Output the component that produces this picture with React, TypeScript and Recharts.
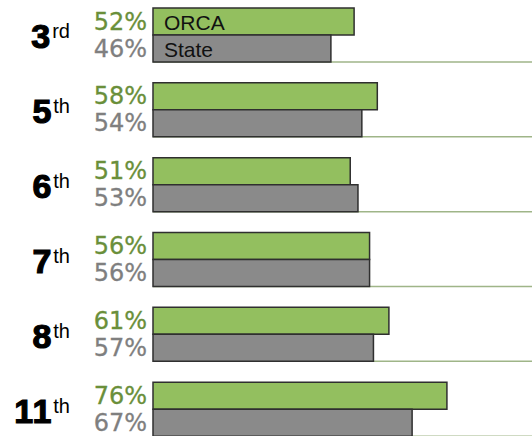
import React from 'react';
import { BarChart, Bar, XAxis, YAxis, LabelList } from 'recharts';

const grades = ['3', '5', '6', '7', '8', '11'];
const suffixes = ['rd', 'th', 'th', 'th', 'th', 'th'];
const orcaValues = [52, 58, 51, 56, 61, 76];
const stateValues = [46, 54, 53, 56, 57, 67];
const seriesNames = ['ORCA', 'State'];

const data = grades.map((g, i) => ({
  grade: g,
  orca: orcaValues[i],
  state: stateValues[i],
}));

const GREEN = '#93bf5f';
const GRAY = '#8a8a8a';
const GREEN_TEXT = '#6a8f3a';
const GRAY_TEXT = '#7f7f7f';
const STROKE = '#2f2f2f';

const GradeTick = (props: any) => {
  const { y, payload } = props;
  const idx = grades.indexOf(payload.value);
  return (
    <text x={70} y={y + 13} textAnchor="end" fill="#000" fontFamily="Liberation Sans">
      <tspan
        fontSize={34}
        fontWeight="bold"
        stroke="#000"
        strokeWidth={1.2}
        letterSpacing={1}
      >
        {payload.value}
      </tspan>
      <tspan fontSize={20} dx={1} dy={-10}>
        {suffixes[idx]}
      </tspan>
    </text>
  );
};

const makePctLabel = (color: string) => (props: any) => {
  const { x, y, height, value } = props;
  return (
    <text
      x={x - 6}
      y={y + height / 2 + 8}
      textAnchor="end"
      fontFamily="DejaVu Sans"
      fontSize={24}
      fill={color}
      stroke={color}
      strokeWidth={0.3}
    >
      {`${value}%`}
    </text>
  );
};

const makeNameLabel = (name: string) => (props: any) => {
  const { x, y, height, index } = props;
  if (index !== 0) return null;
  return (
    <text
      x={x + 11}
      y={y + height / 2 + 8}
      fontFamily="Liberation Sans"
      fontSize={21}
      fill="#111"
    >
      {name}
    </text>
  );
};

const BaseLine = (props: any) => {
  const { x, y, width, height } = props;
  return (
    <line
      x1={x}
      x2={x + width}
      y1={y + height}
      y2={y + height}
      stroke="#9fb588"
      strokeWidth={1.5}
    />
  );
};

export default function App() {
  return (
    <div
      style={{
        position: 'fixed',
        left: 0,
        top: 0,
        width: 532,
        height: 436,
        overflow: 'hidden',
        background: '#fff',
      }}
    >
      <div style={{ position: 'absolute', left: 0, top: -2 }}>
        <BarChart
          width={532}
          height={449}
          data={data}
          layout="vertical"
          margin={{ top: 0, right: 0, bottom: 0, left: 0 }}
          barGap={0}
        >
          <XAxis type="number" domain={[0, 98]} hide />
          <YAxis
            type="category"
            dataKey="grade"
            width={153}
            axisLine={false}
            tickLine={false}
            tick={<GradeTick />}
            interval={0}
          />
          <Bar
            dataKey="orca"
            name={seriesNames[0]}
            fill={GREEN}
            stroke={STROKE}
            strokeWidth={1.5}
            barSize={27}
            isAnimationActive={false}
          >
            <LabelList dataKey="orca" content={makePctLabel(GREEN_TEXT)} />
            <LabelList dataKey="orca" content={makeNameLabel(seriesNames[0])} />
          </Bar>
          <Bar
            dataKey="state"
            name={seriesNames[1]}
            fill={GRAY}
            stroke={STROKE}
            strokeWidth={1.5}
            barSize={27}
            background={BaseLine}
            isAnimationActive={false}
          >
            <LabelList dataKey="state" content={makePctLabel(GRAY_TEXT)} />
            <LabelList dataKey="state" content={makeNameLabel(seriesNames[1])} />
          </Bar>
        </BarChart>
      </div>
    </div>
  );
}
